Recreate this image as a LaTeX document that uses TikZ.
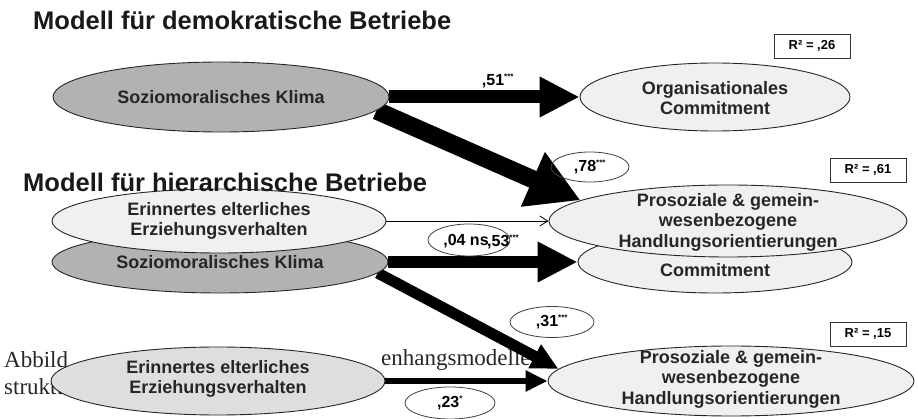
\documentclass[tikz,border=0pt]{standalone}
\usepackage{fontspec}
\setmainfont{Liberation Sans}
\newfontfamily\capfont{Liberation Serif}
\usetikzlibrary{shapes.geometric,arrows.meta}
\pgfdeclarelayer{back}
\pgfdeclarelayer{arrowlayer}
\pgfsetlayers{back,arrowlayer,main}
\newcommand{\stars}[1]{\textsuperscript{\fontsize{8}{8}\selectfont #1}}
\begin{document}
\begin{tikzpicture}[x=1pt,y=-1pt,
  ell/.style={ellipse, draw=black!85, line width=0.9pt, inner sep=0pt},
  grayell/.style={ell, fill=black!30},
  lightell/.style={ell, fill=black!6},
  midell/.style={ell, fill=black!13},
  etext/.style={font=\fontsize{18}{20.5}\selectfont\bfseries, align=center, text=black!85, inner sep=0pt},
  title/.style={font=\fontsize{25.5}{28}\selectfont\bfseries, text=black!90, inner sep=0pt, anchor=base west},
  rbox/.style={draw=black!80, line width=0.8pt, fill=white, font=\fontsize{13}{15}\selectfont\bfseries, minimum width=76pt, minimum height=24pt, inner sep=0pt},
  coef/.style={font=\fontsize{16}{18}\selectfont\bfseries, inner sep=0pt},
  coefoval/.style={ellipse, draw=black!75, line width=0.8pt, inner sep=0pt},
  captext/.style={font=\capfont\fontsize{23}{26}\selectfont, text=black!85, inner sep=0pt, anchor=base west},
  arrw/.style={draw=black, line width=#1},
]
\useasboundingbox (0,0) rectangle (918,419);

% ---------- caption fragments (background) ----------
\begin{pgfonlayer}{back}
\node[captext] (cap1) at (4,368) {Abbild};
\node[captext] (cap2) at (4,394) {struktu};
\node[captext] (cap3) at (381,366) {enhangsmodelle};
\end{pgfonlayer}

% ---------- hierarchical model (lower layer) ----------
\node[grayell, minimum width=336pt, minimum height=62pt] (sozB) at (220,262) {};
\node[lightell, minimum width=274pt, minimum height=62pt] (comB) at (715,262) {};
\node[midell, minimum width=334pt, minimum height=68pt] (erinB) at (218,381) {};
\node[lightell, minimum width=366pt, minimum height=70pt] (proB) at (731,381) {};
\node[etext] (sozBt) at (220,262) {Soziomoralisches Klima};
\node[etext] (comBt) at (715,270) {Commitment};
\node[etext] (erinBt) at (218,379) {Erinnertes elterliches\\Erziehungsverhalten};
\node[etext] (proBt) at (731,379) {Prosoziale \& gemein-\\wesenbezogene\\Handlungsorientierungen};
\node[rbox] (r15) at (868,334) {R² = ,15};

% ---------- democratic model (upper layer) ----------
\node[grayell, minimum width=336pt, minimum height=70pt] (sozA) at (221,97) {};
\node[lightell, minimum width=270pt, minimum height=68pt] (orgA) at (715,97) {};
\node[lightell, minimum width=334pt, minimum height=64pt] (erinA) at (219,221) {};
\node[lightell, minimum width=358pt, minimum height=72pt] (proA) at (728,221) {};
\node[etext] (sozAt) at (221,97) {Soziomoralisches Klima};
\node[etext] (orgAt) at (715,98) {Organisationales\\Commitment};
\node[etext] (erinAt) at (219,221) {Erinnertes elterliches\\Erziehungsverhalten};
\node[etext] (proAt) at (728,222) {Prosoziale \& gemein-\\wesenbezogene\\Handlungsorientierungen};
\node[rbox] (r26) at (812,46) {R² = ,26};
\node[rbox] (r61) at (868,170) {R² = ,61};

% ---------- arrows ----------
\begin{pgfonlayer}{arrowlayer}
\draw[arrw=13pt, -{Triangle[length=40pt,width=38pt]}] (sozA.east) -- (orgA.west);
\draw[arrw=18pt, -{Triangle[length=52pt,width=56pt]}] (sozA.-5) -- (proA.172);
\draw[arrw=0.8pt, -{Straight Barb[length=8pt,width=10pt]}] (erinA.east) -- (proA.west);
\draw[arrw=12pt, -{Triangle[length=40pt,width=38pt]}] (sozB.east) -- (comB.west);
\draw[arrw=11pt, -{Triangle[length=27pt,width=25pt]}] (sozB.-4) -- (proB.176);
\draw[arrw=6pt, -{Triangle[length=22pt,width=20pt]}] (erinB.east) -- (proB.west);
\end{pgfonlayer}

% ---------- coefficients ----------
\node[coef] (c51) at (498,81) {,51\stars{***}};
\node[coefoval, minimum width=78pt, minimum height=30pt] (o78) at (590,167) {};
\node[coef] (c78) at (590,167) {,78\stars{***}};
\node[coefoval, minimum width=82pt, minimum height=32pt] (o04) at (469,240) {};
\node[coef] (c04) at (466,241) {,04 ns};
\node[coef, anchor=base west] (c53) at (487,247) {,53\stars{***}};
\node[coefoval, minimum width=84pt, minimum height=31pt] (o31) at (552,322) {};
\node[coef] (c31) at (552,322) {,31\stars{***}};
\node[coefoval, minimum width=90pt, minimum height=32pt] (o23) at (450,403) {};
\node[coef] (c23) at (450,403) {,23\stars{*}};

% ---------- titles ----------
\node[title] (t1) at (33,30) {Modell für demokratische Betriebe};
\node[title] (t2) at (23,192) {Modell für hierarchische Betriebe};
\end{tikzpicture}
\end{document}
